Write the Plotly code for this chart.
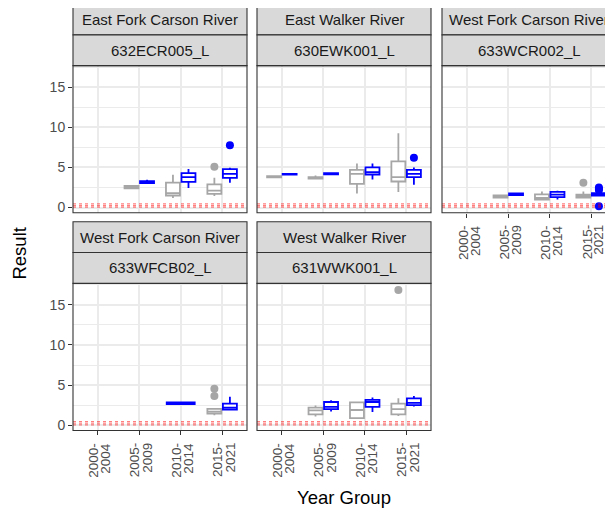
import plotly.graph_objects as go

# **** Data
year_groups = ["2000-2004", "2005-2009", "2010-2014", "2015-2021"]
rivers = ["East Fork Carson River", "East Walker River", "West Fork Carson River",
          "West Fork Carson River", "West Walker River"]
sites = ["632ECR005_L", "630EWK001_L", "633WCR002_L", "633WFCB02_L", "631WWK001_L"]

# one row per site, one value per year group (None = no samples)
gray_low = [[None, 2.4, 1.2, 1.45], [3.7, 3.55, 1.75, 1.95], [None, 1.2, 0.95, 1.2],
            [None, None, None, 1.25], [None, 1.1, 0.85, 1.15]]
gray_q1 = [[None, 2.4, 1.5, 1.7], [3.75, 3.6, 2.95, 3.25], [None, 1.25, 1.0, 1.25],
           [None, None, None, 1.45], [None, 1.35, 0.9, 1.35]]
gray_med = [[None, 2.55, 1.8, 2.1], [3.8, 3.7, 4.2, 3.8], [None, 1.35, 1.2, 1.4],
            [None, None, None, 1.7], [None, 1.85, 1.9, 2.0]]
gray_q3 = [[None, 2.7, 3.1, 2.9], [3.9, 3.8, 4.7, 5.75], [None, 1.5, 1.65, 1.6],
           [None, None, None, 2.05], [None, 2.2, 2.85, 2.7]]
gray_high = [[None, 2.7, 4.1, 3.7], [3.9, 4.0, 5.5, 9.25], [None, 1.55, 2.0, 2.0],
             [None, None, None, 2.1], [None, 2.45, 2.85, 3.35]]
gray_out = [[[], [], [], [5.1]], [[], [], [], []], [[], [], [], [3.1]],
            [[], [], [], [3.65, 4.55]], [[], [], [], [16.85]]]

blue_low = [[None, 3.0, 2.45, 3.1], [4.05, 4.1, 3.5, 2.85], [None, 1.5, 1.0, 1.45],
            [None, None, 2.6, 1.85], [None, 1.7, 1.65, 2.35]]
blue_q1 = [[None, 3.05, 3.2, 3.7], [4.1, 4.15, 4.1, 3.8], [None, 1.55, 1.3, 1.5],
           [None, None, 2.65, 1.95], [None, 2.0, 2.3, 2.5]]
blue_med = [[None, 3.15, 3.8, 4.2], [4.15, 4.2, 4.4, 4.2], [None, 1.65, 1.6, 1.6],
            [None, None, 2.75, 2.2], [None, 2.3, 2.9, 2.8]]
blue_q3 = [[None, 3.3, 4.3, 4.8], [4.2, 4.3, 5.0, 4.7], [None, 1.75, 1.95, 1.8],
           [None, None, 2.85, 2.7], [None, 2.9, 3.15, 3.35]]
blue_high = [[None, 3.45, 4.8, 4.95], [4.3, 4.35, 5.5, 5.0], [None, 1.8, 2.1, 2.0],
             [None, None, 2.9, 3.55], [None, 3.1, 3.45, 3.65]]
blue_out = [[[], [], [], [7.75]], [[], [], [], [6.2]], [[], [], [], [0.15, 2.2, 2.35, 2.5]],
            [[], [], [], []], [[], [], [], []]]

ref_levels = [0.05, 0.25, 0.45]

# **** Layout (pixels in the browser window; the page body adds an 8px margin)
PAGE_OFF = 8
W, H = 613 - PAGE_OFF, 513 - PAGE_OFF
col_left = [73, 257, 442]
col_w = 174
row_top = [66, 285]
plot_h = 148
strip_h = 31
cells = [(0, 0), (0, 1), (0, 2), (1, 0), (1, 1)]
x_lo, x_hi = 0.4, 4.6
y_lo, y_hi = -0.65, 17.68

gray_col = "#A6A6A6"
blue_col = "#0000FF"
font_family = "Liberation Sans, Arial, sans-serif"
tick_font = dict(size=13.5, color="#4D4D4D", family=font_family)


def px(x):
    return (x - PAGE_OFF) / W


def py(y):
    return 1 - (y - PAGE_OFF) / H


fig = go.Figure()
shapes = []
annotations = []

groups = [("gray", gray_col, gray_low, gray_q1, gray_med, gray_q3, gray_high, gray_out),
          ("blue", blue_col, blue_low, blue_q1, blue_med, blue_q3, blue_high, blue_out)]

for n, (row, col) in enumerate(cells):
    sfx = "" if n == 0 else str(n + 1)
    left = col_left[col]
    right = min(left + col_w, 613)
    top = row_top[row]
    bottom = top + plot_h
    xr_hi = x_lo + (right - left) / col_w * (x_hi - x_lo)

    show_x = n >= 2
    show_y = col == 0
    fig.update_layout({
        "xaxis" + sfx: dict(
            domain=[px(left), px(right)], range=[x_lo, xr_hi], anchor="y" + sfx,
            tickvals=[1, 2, 3, 4], showticklabels=False,
            ticks="outside" if show_x else "", ticklen=4, tickcolor="#333333",
            showgrid=True, gridcolor="#EBEBEB", gridwidth=1.6, zeroline=False,
            showline=False),
        "yaxis" + sfx: dict(
            domain=[py(bottom), py(top)], range=[y_lo, y_hi], anchor="x" + sfx,
            tickvals=[0, 5, 10, 15], showticklabels=show_y,
            ticks="outside" if show_y else "", ticklen=4, tickcolor="#333333",
            tickfont=dict(size=14, color="#4D4D4D", family=font_family),
            showgrid=True, gridcolor="#EBEBEB", gridwidth=1.6, zeroline=False,
            showline=False,
            minor=dict(tick0=2.5, dtick=5, showgrid=True, gridcolor="#EBEBEB",
                       gridwidth=0.8, ticks="")),
    })

    # two-line rotated year-group labels under the bottom panels
    if show_x:
        for c, label in enumerate(year_groups):
            first, second = label.split("-")
            for text, shift in ((first + "-", -4), (second, 8)):
                annotations.append(dict(
                    text=text, xref="x" + sfx, yref="paper", x=c + 1, y=py(bottom + 10),
                    xshift=shift, textangle=-90, showarrow=False,
                    xanchor="center", yanchor="top", font=tick_font))

    # boxes
    for g_idx, (name, colr, lo, q1, med, q3, hi, out) in enumerate(groups):
        for c in range(4):
            if med[n][c] is None:
                continue
            other = groups[1 - g_idx][4][n][c]
            if other is None:
                pos, width = c + 1, 0.675
            else:
                pos = c + 1 + (-0.1875 if name == "gray" else 0.1875)
                width = 0.3375
            fig.add_trace(go.Box(
                x=[pos], q1=[q1[n][c]], median=[med[n][c]], q3=[q3[n][c]],
                lowerfence=[lo[n][c]], upperfence=[hi[n][c]],
                width=width, whiskerwidth=0, fillcolor="white",
                line=dict(color=colr, width=1.8), boxpoints=False,
                xaxis="x" + sfx, yaxis="y" + sfx, showlegend=False))
            if out[n][c]:
                fig.add_trace(go.Scatter(
                    x=[pos] * len(out[n][c]), y=out[n][c], mode="markers",
                    marker=dict(color=colr, size=8), xaxis="x" + sfx,
                    yaxis="y" + sfx, showlegend=False))

    # reference lines
    for lvl in ref_levels:
        shapes.append(dict(type="line", xref="x" + sfx + " domain", x0=0, x1=1,
                           yref="y" + sfx, y0=lvl, y1=lvl,
                           line=dict(color="rgba(255,0,0,0.5)", width=1.2, dash="dot")))

    # panel border
    shapes.append(dict(type="rect", xref="paper", yref="paper",
                       x0=px(left), x1=px(left + col_w), y0=py(bottom), y1=py(top),
                       line=dict(color="#333333", width=1.1), fillcolor="rgba(0,0,0,0)"))
    # strips
    for k, label in enumerate([rivers[n], sites[n]]):
        s_top = top - strip_h * (2 - k)
        s_bot = s_top + strip_h
        shapes.append(dict(type="rect", xref="paper", yref="paper",
                           x0=px(left), x1=px(left + col_w), y0=py(s_bot), y1=py(s_top),
                           line=dict(color="#333333", width=1.1), fillcolor="#D9D9D9"))
        annotations.append(dict(text=label, xref="paper", yref="paper",
                                x=px(left + col_w / 2), y=py((s_top + s_bot) / 2),
                                showarrow=False, xanchor="center", yanchor="middle",
                                font=dict(size=15, color="#1A1A1A", family=font_family)))

annotations.append(dict(text="Year Group", xref="paper", yref="paper", x=px(344), y=py(500),
                        showarrow=False, xanchor="center", yanchor="middle",
                        font=dict(size=18.5, color="black", family=font_family)))
annotations.append(dict(text="Result", xref="paper", yref="paper", x=px(20), y=py(255),
                        showarrow=False, xanchor="center", yanchor="middle", textangle=-90,
                        font=dict(size=18.5, color="black", family=font_family)))

fig.update_layout(
    width=W, height=H,
    margin=dict(l=0, r=0, t=0, b=0),
    paper_bgcolor="white", plot_bgcolor="white",
    showlegend=False, boxmode="overlay",
    shapes=shapes, annotations=annotations,
    font=dict(family=font_family),
)

fig.write_html("out.html")
